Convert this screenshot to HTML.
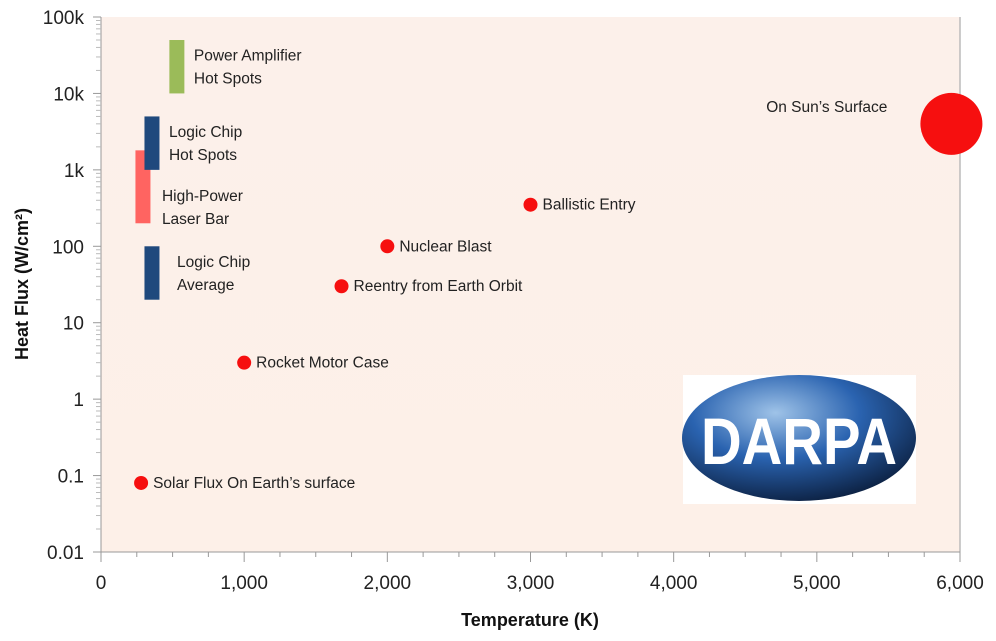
<!DOCTYPE html>
<html><head><meta charset="utf-8"><style>
body{margin:0;background:#fff;width:996px;height:636px;overflow:hidden}
svg text{font-family:"Liberation Sans","DejaVu Sans",sans-serif}
</style></head><body>
<svg id="chart" width="996" height="636" xmlns="http://www.w3.org/2000/svg">
<defs>
<linearGradient id="bg" x1="0" y1="0" x2="0" y2="1"><stop offset="0" stop-color="#fcf0ea"/><stop offset="1" stop-color="#fdf0e8"/></linearGradient>
<radialGradient id="globe" cx="0.4" cy="0.3" r="0.8"><stop offset="0" stop-color="#9fc3e8"/><stop offset="0.45" stop-color="#2a63b0"/><stop offset="1" stop-color="#07152e"/></radialGradient>
</defs>
<rect x="101" y="17" width="859" height="535" fill="url(#bg)"/>
<line x1="960" y1="17" x2="960" y2="552" stroke="#bbb" stroke-width="1.5"/>
<g id="axes"></g>
<g id="marks"></g>
<g>
<rect x="683" y="375" width="233" height="129" fill="#fff"/>
<ellipse cx="799" cy="438" rx="117" ry="63" fill="url(#globe)"/>
<text x="799" y="464" text-anchor="middle" font-size="66" font-weight="bold" fill="#fff" textLength="196" lengthAdjust="spacingAndGlyphs">DARPA</text>
</g>
<text x="530" y="626" text-anchor="middle" font-size="18" font-weight="bold" fill="#111">Temperature (K)</text>
<text transform="translate(28,284) rotate(-90)" text-anchor="middle" font-size="18" font-weight="bold" fill="#111">Heat Flux (W/cm²)</text>
</svg>
<script>
const yTicks=[0.01,0.1,1,10,100,1000,10000,100000];
const yTickLabels=["0.01","0.1","1","10","100","1k","10k","100k"];
const xTicks=[0,1000,2000,3000,4000,5000,6000];
const xTickLabels=["0","1,000","2,000","3,000","4,000","5,000","6,000"];
const barLine1=["Power Amplifier","High-Power","Logic Chip","Logic Chip"];
const barLine2=["Hot Spots","Laser Bar","Hot Spots","Average"];
const barTemps=[530,293,356,356];
const barLow=[10000,200,1000,20];
const barHigh=[50000,1800,5000,100];
const barColors=["#9bbb59","#ff6461","#1f497d","#1f497d"];
const pointNames=["Solar Flux On Earth's surface","Rocket Motor Case","Reentry from Earth Orbit","Nuclear Blast","Ballistic Entry","On Sun's Surface"];
const pointTemps=[280,1000,1680,2000,3000,5940];
const pointFlux=[0.08,3,30,100,350,4000];
const pointSizes=[7,7,7,7,7,31];
const NS="http://www.w3.org/2000/svg";
const X=v=>101+v*(859/6000);
const Y=v=>552-(Math.log10(v)+2)*(535/7);
function mk(t,a,p){const e=document.createElementNS(NS,t);for(const k in a)e.setAttribute(k,a[k]);p.appendChild(e);return e;}
const ax=document.getElementById('axes'),mg=document.getElementById('marks');
let l=mk('line',{x1:101,y1:17,x2:101,y2:552,stroke:'#999'},ax);


l=mk('line',{x1:101,y1:552,x2:960,y2:552,stroke:'#999'},ax);


yTicks.forEach((v,i)=>{const y=Y(v);
 mk('line',{x1:93,y1:y,x2:101,y2:y,stroke:'#999'},ax);
 if(i<yTicks.length-1)for(let m=2;m<10;m++){const yy=Y(v*m);mk('line',{x1:96,y1:yy,x2:101,y2:yy,stroke:'#bbb'},ax);}
 const t=mk('text',{x:84,y:y+7,'text-anchor':'end','font-size':19,fill:'#222'},ax);t.textContent=yTickLabels[i];
 
 
});
xTicks.forEach((v,i)=>{const x=X(v);
 mk('line',{x1:x,y1:552,x2:x,y2:562,stroke:'#999'},ax);
 if(i<xTicks.length-1)for(let m=1;m<4;m++){const xx=X(v+250*m);mk('line',{x1:xx,y1:552,x2:xx,y2:557,stroke:'#999'},ax);}
 const t=mk('text',{x:x,y:589,'text-anchor':'middle','font-size':19,fill:'#222'},ax);t.textContent=xTickLabels[i];
 
 
});
barLine1.forEach((n,i)=>{const x=X(barTemps[i]),y1=Y(barHigh[i]),y2=Y(barLow[i]);
 const r=mk('rect',{x:x-7.5,y:y1,width:15,height:y2-y1,fill:barColors[i]},mg);
 
 
 const ly=(y1+y2)/2+(i==1?20:0);const tx=x+(i==1?19:i==3?25:17);
 const t=mk('text',{x:tx,y:ly-6,'font-size':15.5,fill:'#222'},mg);t.textContent=n;
 
 
 const t2=mk('text',{x:tx,y:ly+17,'font-size':15.5,fill:'#222'},mg);t2.textContent=barLine2[i];
 
 
});
pointNames.forEach((n,i)=>{const x=X(pointTemps[i]),y=Y(pointFlux[i]);
 const c=mk('circle',{cx:x,cy:y,r:pointSizes[i],fill:'#f60f0f'},mg);
 
 
 const last=i==pointNames.length-1;
 const t=mk('text',{x:last?x-64:x+12,y:last?y-12:y+5,'text-anchor':last?'end':'start','font-size':15.5,fill:'#222'},mg);t.textContent=n.replace("'","’");
 
 
});
</script>
</body></html>
